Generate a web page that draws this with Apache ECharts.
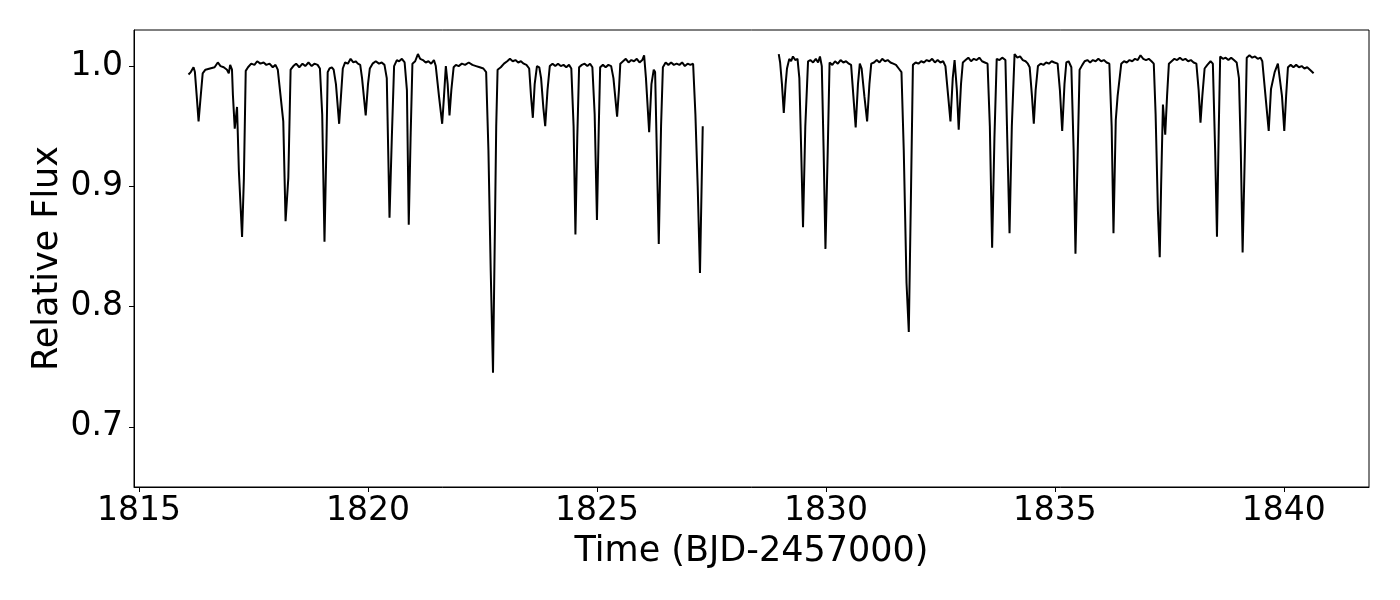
<!DOCTYPE html>
<html>
<head>
<meta charset="utf-8">
<script src="https://cdn.jsdelivr.net/npm/echarts@6/dist/echarts.min.js"></script>
<style>
html,body{margin:0;padding:0;background:#fff;}
#chart{width:1400px;height:600px;}
</style>
</head>
<body>
<div id="chart"></div>
<script>
// Light curve, first orbit (time BJD-2457000, relative flux)
const seg1 = [
[1816.08,0.993],[1816.13,0.995],[1816.19,0.999],[1816.22,0.995],[1816.26,0.975],[1816.30,0.954],[1816.34,0.972],[1816.39,0.994],
[1816.45,0.997],[1816.55,0.998],[1816.65,0.999],[1816.72,1.003],[1816.78,1.000],[1816.85,0.999],[1816.92,0.997],[1816.96,0.994],
[1816.99,1.001],[1817.03,0.997],[1817.05,0.976],[1817.09,0.948],[1817.14,0.966],[1817.18,0.913],[1817.25,0.858],[1817.29,0.907],
[1817.33,0.996],[1817.38,0.999],[1817.45,1.002],[1817.52,1.001],[1817.58,1.004],[1817.65,1.002],[1817.72,1.003],[1817.78,1.001],
[1817.85,1.002],[1817.92,0.999],[1817.98,1.001],[1818.03,0.997],[1818.07,0.996],[1818.15,0.954],[1818.20,0.871],[1818.26,0.907],
[1818.31,0.997],[1818.37,1.000],[1818.43,1.002],[1818.50,0.999],[1818.57,1.002],[1818.63,1.000],[1818.70,1.003],[1818.77,1.000],
[1818.83,1.002],[1818.90,1.001],[1818.95,0.998],[1819.00,0.960],[1819.05,0.854],[1819.09,0.930],[1819.12,0.995],[1819.16,0.998],
[1819.21,0.999],[1819.25,0.997],[1819.30,0.985],[1819.37,0.952],[1819.41,0.975],[1819.45,0.998],[1819.50,1.003],[1819.56,1.002],
[1819.62,1.006],[1819.68,1.003],[1819.73,1.004],[1819.78,1.002],[1819.83,1.001],[1819.87,0.990],[1819.95,0.959],[1820.00,0.985],
[1820.04,0.998],[1820.10,1.002],[1820.17,1.004],[1820.24,1.002],[1820.30,1.003],[1820.36,1.001],[1820.41,0.990],[1820.47,0.874],
[1820.52,0.940],[1820.57,1.000],[1820.63,1.005],[1820.68,1.004],[1820.74,1.006],[1820.80,1.003],[1820.85,0.980],[1820.89,0.868],
[1820.93,0.940],[1820.97,1.002],[1821.03,1.004],[1821.09,1.010],[1821.14,1.006],[1821.20,1.005],[1821.26,1.003],[1821.32,1.004],
[1821.38,1.002],[1821.44,1.005],[1821.48,1.000],[1821.55,0.975],[1821.62,0.952],[1821.66,0.975],[1821.70,1.000],[1821.74,0.985],
[1821.78,0.959],[1821.82,0.980],[1821.87,0.999],[1821.92,1.001],[1821.98,1.000],[1822.05,1.002],[1822.12,1.001],[1822.20,1.003],
[1822.28,1.001],[1822.36,1.000],[1822.44,0.999],[1822.52,0.998],[1822.58,0.995],[1822.63,0.930],[1822.68,0.830],[1822.73,0.745],
[1822.77,0.860],[1822.80,0.950],[1822.83,0.997],[1822.90,0.999],[1822.97,1.002],[1823.04,1.004],[1823.10,1.006],[1823.16,1.004],
[1823.22,1.005],[1823.28,1.003],[1823.34,1.004],[1823.40,1.002],[1823.46,1.001],[1823.52,0.998],[1823.56,0.975],[1823.60,0.957],
[1823.64,0.985],[1823.69,1.000],[1823.74,0.999],[1823.78,0.990],[1823.83,0.965],[1823.87,0.950],[1823.92,0.980],[1823.97,1.000],
[1824.03,1.002],[1824.09,1.000],[1824.15,1.002],[1824.21,1.000],[1824.27,1.001],[1824.33,0.999],[1824.39,1.001],[1824.44,0.998],
[1824.49,0.950],[1824.53,0.860],[1824.57,0.940],[1824.61,0.999],[1824.67,1.001],[1824.73,1.002],[1824.79,1.000],[1824.85,1.002],
[1824.90,0.999],[1824.95,0.960],[1825.00,0.872],[1825.04,0.950],[1825.07,0.999],[1825.13,1.001],[1825.19,0.999],[1825.25,1.001],
[1825.31,1.000],[1825.36,0.990],[1825.44,0.958],[1825.48,0.980],[1825.51,1.002],[1825.57,1.004],[1825.63,1.006],[1825.69,1.003],
[1825.75,1.005],[1825.81,1.004],[1825.87,1.006],[1825.93,1.003],[1825.99,1.005],[1826.03,1.009],[1826.07,0.990],[1826.14,0.945],
[1826.19,0.985],[1826.24,0.997],[1826.27,0.995],[1826.35,0.852],[1826.40,0.950],[1826.44,0.999],[1826.50,1.003],[1826.56,1.001],
[1826.62,1.003],[1826.68,1.001],[1826.74,1.002],[1826.80,1.001],[1826.86,1.003],[1826.92,1.000],[1826.98,1.002],[1827.04,1.001],
[1827.10,1.002],[1827.15,0.960],[1827.20,0.900],[1827.25,0.828],[1827.31,0.950]
];
// Light curve, second orbit
const seg2 = [
[1828.97,1.010],[1829.00,1.003],[1829.04,0.985],[1829.08,0.961],[1829.12,0.985],[1829.15,0.998],[1829.20,1.006],[1829.24,1.004],
[1829.28,1.008],[1829.33,1.005],[1829.38,1.006],[1829.42,0.990],[1829.46,0.930],[1829.50,0.866],[1829.55,0.950],[1829.61,1.004],
[1829.66,1.005],[1829.72,1.003],[1829.78,1.006],[1829.83,1.003],[1829.87,1.008],[1829.91,1.000],[1829.95,0.930],[1829.99,0.848],
[1830.04,0.930],[1830.08,1.003],[1830.14,1.001],[1830.20,1.004],[1830.26,1.002],[1830.32,1.005],[1830.38,1.003],[1830.44,1.004],
[1830.50,1.002],[1830.55,1.001],[1830.60,0.975],[1830.65,0.949],[1830.70,0.985],[1830.74,1.002],[1830.78,0.998],[1830.84,0.975],
[1830.90,0.954],[1830.95,0.985],[1830.99,1.002],[1831.05,1.003],[1831.11,1.005],[1831.17,1.003],[1831.23,1.006],[1831.29,1.004],
[1831.35,1.005],[1831.41,1.003],[1831.47,1.002],[1831.53,1.001],[1831.59,0.998],[1831.65,0.995],[1831.70,0.930],[1831.76,0.820],
[1831.81,0.779],[1831.86,0.900],[1831.90,1.001],[1831.96,1.003],[1832.02,1.002],[1832.08,1.004],[1832.14,1.003],[1832.20,1.005],
[1832.26,1.004],[1832.32,1.006],[1832.38,1.003],[1832.44,1.005],[1832.50,1.003],[1832.56,1.004],[1832.61,1.000],[1832.67,0.975],
[1832.72,0.954],[1832.77,0.990],[1832.81,1.005],[1832.86,0.980],[1832.90,0.947],[1832.95,0.985],[1832.99,1.003],[1833.05,1.005],
[1833.11,1.007],[1833.17,1.004],[1833.23,1.006],[1833.29,1.005],[1833.35,1.007],[1833.41,1.004],[1833.47,1.003],[1833.53,1.002],
[1833.58,0.950],[1833.63,0.849],[1833.68,0.940],[1833.73,1.006],[1833.79,1.005],[1833.85,1.007],[1833.92,1.005],[1833.96,0.940],
[1834.01,0.861],[1834.06,0.950],[1834.12,1.010],[1834.18,1.007],[1834.24,1.008],[1834.30,1.005],[1834.36,1.004],[1834.41,1.002],
[1834.45,0.999],[1834.50,0.975],[1834.54,0.952],[1834.58,0.980],[1834.63,1.000],[1834.69,1.002],[1834.75,1.001],[1834.81,1.003],
[1834.87,1.002],[1834.93,1.004],[1834.99,1.003],[1835.06,1.002],[1835.11,0.980],[1835.16,0.946],[1835.21,0.985],[1835.25,1.003],
[1835.30,1.004],[1835.36,0.999],[1835.41,0.930],[1835.45,0.844],[1835.50,0.930],[1835.54,0.997],[1835.60,1.001],[1835.65,1.004],
[1835.71,1.005],[1835.77,1.003],[1835.83,1.005],[1835.89,1.004],[1835.95,1.006],[1836.01,1.004],[1836.07,1.005],[1836.13,1.003],
[1836.19,1.002],[1836.24,0.950],[1836.28,0.861],[1836.33,0.955],[1836.37,0.975],[1836.45,1.002],[1836.51,1.004],[1836.57,1.003],
[1836.63,1.005],[1836.69,1.004],[1836.75,1.006],[1836.81,1.005],[1836.87,1.009],[1836.93,1.006],[1836.99,1.005],[1837.05,1.006],
[1837.11,1.004],[1837.16,1.002],[1837.20,0.960],[1837.25,0.880],[1837.29,0.841],[1837.32,0.900],[1837.36,0.968],[1837.41,0.943],
[1837.45,0.975],[1837.49,1.002],[1837.55,1.004],[1837.61,1.006],[1837.67,1.005],[1837.73,1.007],[1837.79,1.005],[1837.85,1.006],
[1837.91,1.004],[1837.97,1.005],[1838.03,1.003],[1838.09,1.002],[1838.14,0.980],[1838.18,0.953],[1838.22,0.975],[1838.27,0.998],
[1838.33,1.001],[1838.40,1.004],[1838.45,1.002],[1838.50,0.930],[1838.54,0.858],[1838.58,0.950],[1838.61,1.008],[1838.67,1.006],
[1838.73,1.007],[1838.79,1.005],[1838.85,1.007],[1838.91,1.005],[1838.97,1.003],[1839.02,0.990],[1839.06,0.930],[1839.10,0.845],
[1839.15,0.930],[1839.19,1.007],[1839.25,1.009],[1839.31,1.007],[1839.37,1.008],[1839.43,1.006],[1839.49,1.007],[1839.53,1.004],
[1839.60,0.975],[1839.67,0.946],[1839.72,0.981],[1839.80,0.995],[1839.87,1.002],[1839.91,1.001],[1839.96,0.975],[1840.01,0.946],
[1840.05,0.975],[1840.09,0.999],[1840.15,1.001],[1840.21,0.999],[1840.27,1.001],[1840.33,0.999],[1840.39,1.000],[1840.45,0.998],
[1840.51,0.999],[1840.57,0.997],[1840.65,0.994]
];
const xTicks = [1815, 1820, 1825, 1830, 1835, 1840];
const yTicks = [0.7, 0.8, 0.9, 1.0];
const xTitle = 'Time (BJD-2457000)';
const yTitle = 'Relative Flux';

const FONT = 'DejaVu Sans';
const chart = echarts.init(document.getElementById('chart'), null, {renderer: 'canvas'});
const lineStyle = {color: '#000', width: 2};
chart.setOption({
  animation: false,
  backgroundColor: '#fff',
  grid: {left: 134, right: 31, top: 30, bottom: 113, show: true, borderColor: '#000', borderWidth: 1, backgroundColor: 'transparent'},
  xAxis: {
    type: 'value', min: 1814.89, max: 1841.86,
    name: xTitle, nameLocation: 'middle', nameGap: 47, nameMoveOverlap: false,
    nameTextStyle: {fontFamily: FONT, fontSize: 35, color: '#000'},
    axisLine: {show: true, onZero: false, lineStyle: {color: '#000', width: 1}},
    axisTick: {show: true, length: 5, inside: false, customValues: xTicks, lineStyle: {color: '#000', width: 1}},
    axisLabel: {show: true, customValues: xTicks, margin: 8, fontFamily: FONT, fontSize: 33, color: '#000', formatter: v => String(v)},
    splitLine: {show: false}
  },
  yAxis: {
    type: 'value', min: 0.65, max: 1.03,
    name: yTitle, nameLocation: 'middle', nameGap: 69, nameMoveOverlap: false,
    nameTextStyle: {fontFamily: FONT, fontSize: 35, color: '#000'},
    axisLine: {show: true, onZero: false, lineStyle: {color: '#000', width: 1}},
    axisTick: {show: true, length: 5, inside: false, customValues: yTicks, lineStyle: {color: '#000', width: 1}},
    axisLabel: {show: true, customValues: yTicks, margin: 11, fontFamily: FONT, fontSize: 33, color: '#000', formatter: v => v.toFixed(1)},
    splitLine: {show: false}
  },
  series: [
    {type: 'line', data: seg1, showSymbol: false, lineStyle: lineStyle, itemStyle: {color: '#000'}, silent: true},
    {type: 'line', data: seg2, showSymbol: false, lineStyle: lineStyle, itemStyle: {color: '#000'}, silent: true}
  ]
});
</script>
</body>
</html>
